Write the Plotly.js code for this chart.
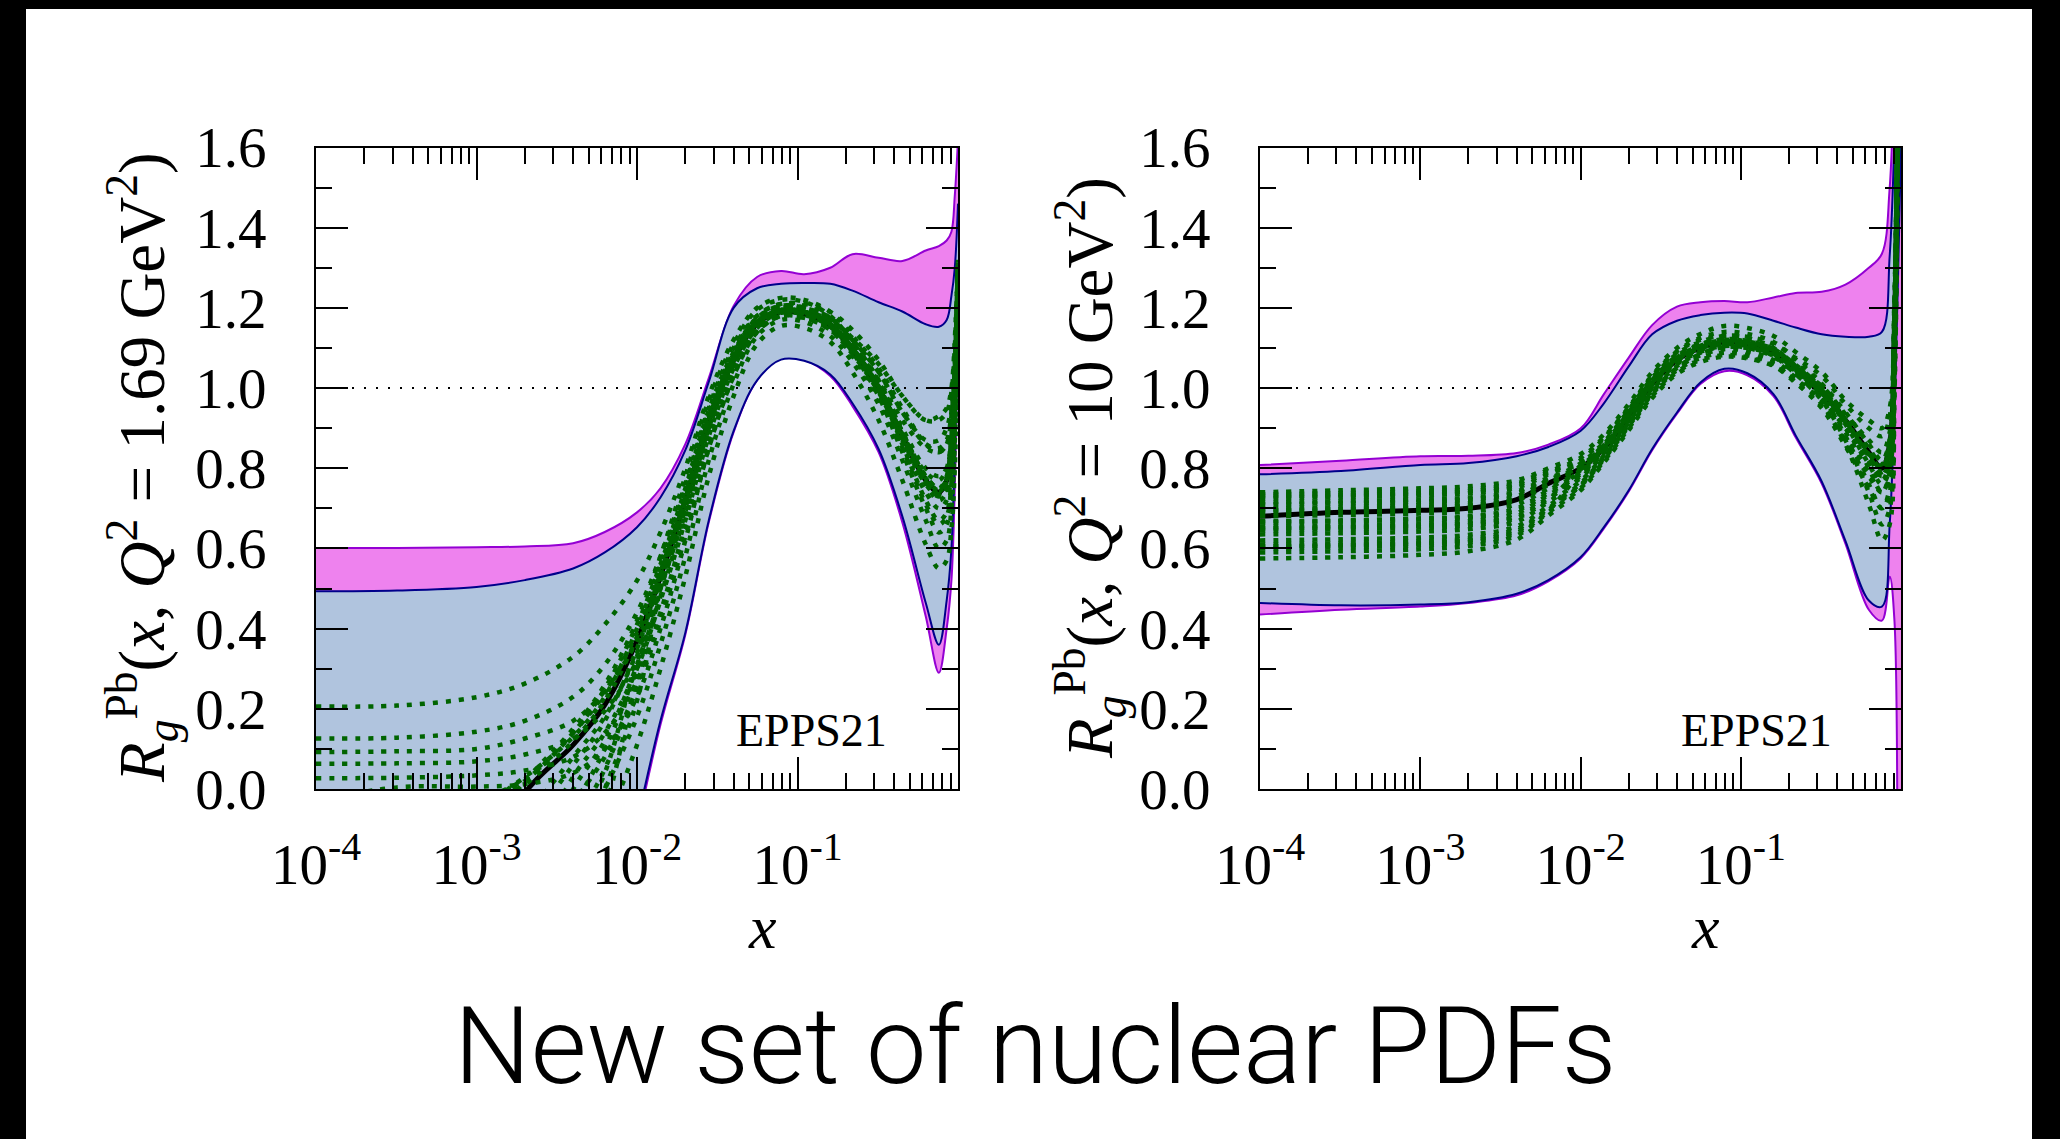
<!DOCTYPE html>
<html>
<head>
<meta charset="utf-8">
<script src="https://cdn.plot.ly/plotly-3.0.1.min.js"></script>
<style>
  html, body { margin: 0; padding: 0; background: #000; }
  #chart { width: 2060px; height: 1139px; }
</style>
</head>
<body>
<div id="chart"></div>
<script>
// ---------------- DATA ----------------
const xGrid = [0.0001, 0.00032, 0.001, 0.002, 0.004, 0.0063, 0.01, 0.014, 0.02, 0.028, 0.04, 0.056,
               0.079, 0.11, 0.16, 0.22, 0.32, 0.45, 0.63, 0.76, 0.85, 0.91, 0.955, 1.0];

const xTickVals = [0.0001, 0.001, 0.01, 0.1];
const xTickText = ['10<sup>-4</sup>', '10<sup>-3</sup>', '10<sup>-2</sup>', '10<sup>-1</sup>'];
const xMinorVals = [0.0002,0.0003,0.0004,0.0005,0.0006,0.0007,0.0008,0.0009,
                    0.002,0.003,0.004,0.005,0.006,0.007,0.008,0.009,
                    0.02,0.03,0.04,0.05,0.06,0.07,0.08,0.09,
                    0.2,0.3,0.4,0.5,0.6,0.7,0.8,0.9];
const yTickVals = [0, 0.2, 0.4, 0.6, 0.8, 1.0, 1.2, 1.4, 1.6];
const yTickText = ['0.0', '0.2', '0.4', '0.6', '0.8', '1.0', '1.2', '1.4', '1.6'];

const unityX = [0.0001, 1.0];
const unityY = [1.0, 1.0];

// Left panel: Q^2 = 1.69 GeV^2
const leftMagentaUpper = [0.601,0.601,0.603,0.605,0.613,0.641,0.69,0.75,0.86,1.025,1.205,1.277,1.292,1.284,1.30,1.334,1.325,1.317,1.343,1.354,1.368,1.39,1.48,1.62];
const leftMagentaLower = [-1.1,-1.05,-1.0,-0.9,-0.7,-0.5,-0.1,0.16,0.385,0.665,0.89,1.02,1.075,1.07,1.03,0.955,0.84,0.665,0.43,0.29,0.4,0.52,0.75,1.15];
const leftBlueUpper    = [0.493,0.495,0.504,0.521,0.55,0.59,0.653,0.727,0.845,1.015,1.2,1.249,1.26,1.262,1.26,1.243,1.214,1.191,1.159,1.153,1.17,1.23,1.3,1.46];
const leftBlueLower    = [-1.0,-0.95,-0.9,-0.8,-0.6,-0.42,-0.08,0.17,0.39,0.67,0.893,1.019,1.071,1.068,1.034,0.962,0.848,0.68,0.464,0.36,0.47,0.6,0.85,1.2];
const leftCentral      = [-0.55,-0.45,-0.25,-0.01,0.11,0.21,0.37,0.53,0.72,0.92,1.07,1.16,1.19,1.185,1.155,1.095,1.0,0.88,0.77,0.74,0.77,0.86,1.0,1.3];
const leftMembers = [
  [0.206,0.208,0.229,0.263,0.33,0.41,0.52,0.64,0.80,0.98,1.12,1.20,1.225,1.22,1.19,1.13,1.05,0.95,0.86,0.84,0.86,0.93,1.05,1.32],
  [0.126,0.128,0.143,0.17,0.23,0.31,0.44,0.58,0.76,0.95,1.10,1.18,1.21,1.205,1.175,1.11,1.01,0.88,0.76,0.72,0.74,0.82,0.97,1.26],
  [0.092,0.094,0.10,0.126,0.17,0.245,0.37,0.52,0.72,0.92,1.085,1.175,1.205,1.20,1.175,1.12,1.04,0.94,0.86,0.85,0.87,0.94,1.06,1.3],
  [0.063,0.064,0.069,0.086,0.126,0.195,0.32,0.48,0.69,0.90,1.07,1.165,1.20,1.195,1.16,1.09,0.98,0.84,0.70,0.64,0.66,0.75,0.9,1.2],
  [0.027,0.028,0.034,0.046,0.08,0.14,0.27,0.44,0.66,0.88,1.05,1.15,1.185,1.185,1.16,1.105,1.02,0.92,0.85,0.84,0.86,0.93,1.05,1.3],
  [-0.03,0.004,0.006,0.012,0.04,0.10,0.23,0.40,0.62,0.85,1.03,1.14,1.18,1.18,1.155,1.10,1.01,0.89,0.77,0.73,0.75,0.83,0.97,1.28],
  [-0.4,-0.3,-0.12,0.02,0.15,0.26,0.42,0.58,0.78,0.97,1.11,1.195,1.22,1.215,1.18,1.115,1.02,0.89,0.78,0.75,0.77,0.85,1.0,1.3],
  [-0.8,-0.7,-0.45,-0.2,0.03,0.14,0.30,0.47,0.67,0.88,1.05,1.15,1.19,1.19,1.17,1.125,1.06,0.98,0.92,0.92,0.94,0.99,1.1,1.32],
  [-1.0,-0.9,-0.6,-0.3,-0.04,0.08,0.25,0.42,0.63,0.85,1.03,1.14,1.18,1.175,1.145,1.08,0.98,0.85,0.71,0.66,0.68,0.76,0.92,1.22],
  [-1.2,-1.1,-0.8,-0.5,-0.15,0.0,0.18,0.36,0.58,0.82,1.01,1.13,1.17,1.165,1.13,1.065,0.96,0.82,0.67,0.60,0.62,0.7,0.86,1.15],
  [-1.5,-1.3,-1.0,-0.7,-0.3,-0.1,0.11,0.30,0.53,0.78,0.98,1.11,1.155,1.15,1.115,1.04,0.92,0.77,0.61,0.55,0.57,0.65,0.8,1.1],
  [-0.2,-0.15,-0.05,0.03,0.13,0.23,0.40,0.56,0.75,0.94,1.09,1.18,1.21,1.21,1.19,1.145,1.07,0.98,0.92,0.93,0.95,1.0,1.12,1.32],
  [-0.6,-0.5,-0.3,-0.08,0.08,0.18,0.34,0.5,0.7,0.9,1.06,1.16,1.195,1.19,1.16,1.1,1.0,0.86,0.72,0.67,0.69,0.77,0.93,1.24],
  [-0.3,-0.2,-0.08,0.01,0.12,0.22,0.38,0.55,0.74,0.93,1.08,1.17,1.2,1.2,1.17,1.12,1.04,0.94,0.87,0.87,0.9,0.96,1.08,1.3],
  [-0.8,-0.65,-0.45,-0.3,-0.05,0.1,0.3,0.53,0.73,0.93,1.08,1.17,1.2,1.195,1.165,1.105,1.01,0.89,0.78,0.75,0.78,0.87,1.01,1.3],
  [-0.9,-0.75,-0.55,-0.4,-0.1,0.05,0.26,0.51,0.71,0.91,1.06,1.15,1.18,1.175,1.145,1.085,0.99,0.87,0.76,0.73,0.76,0.85,0.99,1.28],
  [-0.5,-0.4,-0.25,-0.1,0.06,0.17,0.35,0.535,0.725,0.925,1.075,1.165,1.195,1.19,1.16,1.1,1.005,0.885,0.79,0.77,0.8,0.88,1.02,1.3],
  [-1.1,-0.95,-0.75,-0.6,-0.2,0.0,0.22,0.5,0.715,0.915,1.065,1.155,1.185,1.18,1.15,1.09,0.995,0.875,0.765,0.735,0.765,0.855,0.995,1.29],
  [-0.7,-0.6,-0.4,-0.25,0.0,0.12,0.31,0.5,0.69,0.9,1.05,1.15,1.19,1.185,1.16,1.105,1.015,0.9,0.8,0.78,0.8,0.88,1.02,1.3],
  [-0.25,-0.15,-0.05,0.02,0.14,0.25,0.41,0.56,0.75,0.945,1.09,1.175,1.205,1.2,1.165,1.1,0.995,0.86,0.74,0.7,0.72,0.8,0.95,1.25],
  [-0.95,-0.8,-0.6,-0.45,-0.12,0.04,0.33,0.54,0.722,0.922,1.072,1.162,1.192,1.187,1.157,1.097,1.002,0.882,0.772,0.742,0.772,0.862,1.002,1.3],
  [-1.3,-1.1,-0.9,-0.7,-0.25,-0.05,0.28,0.52,0.718,0.918,1.068,1.158,1.188,1.183,1.153,1.093,0.998,0.878,0.768,0.738,0.768,0.858,0.998,1.3],
  [-0.15,-0.1,-0.03,0.025,0.14,0.24,0.39,0.535,0.725,0.925,1.075,1.163,1.193,1.188,1.158,1.098,1.003,0.883,0.775,0.745,0.775,0.865,1.005,1.3]
];

// Right panel: Q^2 = 10 GeV^2
const rightMagentaUpper = [0.808,0.819,0.83,0.831,0.838,0.859,0.899,0.985,1.076,1.157,1.203,1.214,1.217,1.214,1.226,1.237,1.24,1.258,1.30,1.335,1.5,1.8,2.0,2.2];
const rightMagentaLower = [0.435,0.447,0.455,0.464,0.483,0.518,0.575,0.65,0.742,0.845,0.936,1.01,1.042,1.032,0.98,0.877,0.762,0.612,0.447,0.42,0.53,0.42,-0.3,-2.0];
const rightBlueUpper    = [0.785,0.793,0.808,0.813,0.83,0.853,0.893,0.962,1.054,1.134,1.168,1.182,1.188,1.186,1.168,1.151,1.134,1.128,1.128,1.14,1.33,1.62,1.9,2.1];
const rightBlueLower    = [0.464,0.458,0.46,0.466,0.487,0.521,0.578,0.653,0.745,0.848,0.939,1.014,1.048,1.037,0.985,0.882,0.767,0.619,0.47,0.455,0.66,0.95,1.25,1.6];
const rightCentral      = [0.68,0.69,0.695,0.70,0.722,0.762,0.80,0.85,0.93,1.01,1.07,1.10,1.115,1.11,1.09,1.05,0.99,0.92,0.84,0.80,0.86,1.15,1.7,2.3];
const rightMembers = [
  [0.74,0.745,0.75,0.755,0.77,0.80,0.835,0.885,0.96,1.04,1.10,1.135,1.155,1.15,1.13,1.09,1.04,0.97,0.92,0.90,0.95,1.22,1.75,2.3],
  [0.725,0.728,0.732,0.738,0.752,0.785,0.82,0.875,0.95,1.03,1.09,1.12,1.13,1.125,1.10,1.05,0.98,0.88,0.76,0.70,0.75,1.05,1.6,2.3],
  [0.71,0.713,0.717,0.722,0.738,0.772,0.812,0.865,0.945,1.025,1.085,1.115,1.13,1.128,1.11,1.075,1.03,0.96,0.90,0.88,0.93,1.22,1.76,2.3],
  [0.695,0.698,0.702,0.707,0.724,0.762,0.805,0.86,0.94,1.02,1.08,1.11,1.12,1.115,1.095,1.055,1.0,0.92,0.83,0.78,0.82,1.12,1.68,2.3],
  [0.68,0.683,0.687,0.692,0.71,0.75,0.795,0.852,0.933,1.013,1.072,1.10,1.11,1.105,1.08,1.035,0.97,0.87,0.74,0.66,0.70,1.0,1.56,2.3],
  [0.665,0.668,0.672,0.677,0.695,0.738,0.785,0.845,0.927,1.008,1.068,1.098,1.112,1.108,1.088,1.048,0.995,0.915,0.83,0.79,0.84,1.14,1.7,2.3],
  [0.65,0.653,0.657,0.662,0.68,0.726,0.776,0.838,0.92,1.0,1.06,1.09,1.105,1.10,1.078,1.035,0.975,0.89,0.79,0.74,0.78,1.08,1.64,2.3],
  [0.635,0.638,0.642,0.648,0.667,0.716,0.768,0.832,0.915,0.995,1.055,1.088,1.105,1.102,1.085,1.05,1.005,0.935,0.87,0.84,0.89,1.18,1.72,2.3],
  [0.62,0.623,0.627,0.634,0.655,0.706,0.762,0.828,0.91,0.99,1.05,1.082,1.097,1.092,1.07,1.025,0.96,0.86,0.71,0.62,0.66,0.98,1.55,2.3],
  [0.605,0.608,0.613,0.62,0.643,0.698,0.756,0.823,0.905,0.985,1.045,1.075,1.088,1.082,1.06,1.015,0.95,0.855,0.75,0.70,0.74,1.04,1.6,2.3],
  [0.59,0.593,0.598,0.606,0.632,0.69,0.75,0.818,0.9,0.98,1.04,1.07,1.082,1.077,1.056,1.013,0.955,0.87,0.78,0.74,0.78,1.08,1.65,2.3],
  [0.575,0.578,0.584,0.593,0.622,0.682,0.745,0.814,0.895,0.975,1.035,1.065,1.078,1.074,1.055,1.02,0.97,0.90,0.82,0.78,0.82,1.12,1.67,2.3],
  [0.70,0.703,0.708,0.713,0.73,0.77,0.805,0.855,0.935,1.015,1.075,1.105,1.12,1.115,1.095,1.055,0.995,0.915,0.835,0.80,0.85,1.15,1.7,2.3],
  [0.668,0.67,0.675,0.68,0.70,0.745,0.79,0.848,0.93,1.01,1.07,1.1,1.115,1.112,1.092,1.05,0.99,0.91,0.82,0.78,0.83,1.13,1.69,2.3],
  [0.655,0.658,0.662,0.668,0.688,0.733,0.78,0.842,0.924,1.004,1.064,1.095,1.11,1.106,1.086,1.045,0.985,0.9,0.81,0.77,0.82,1.12,1.68,2.3],
  [0.69,0.693,0.697,0.703,0.72,0.758,0.8,0.855,0.937,1.017,1.077,1.108,1.122,1.118,1.098,1.06,1.01,0.94,0.86,0.82,0.87,1.17,1.72,2.3],
  [0.61,0.613,0.618,0.625,0.648,0.7,0.758,0.826,0.908,0.988,1.05,1.085,1.102,1.1,1.082,1.042,0.99,0.91,0.81,0.76,0.80,1.1,1.66,2.3],
  [0.73,0.733,0.738,0.743,0.758,0.79,0.826,0.878,0.952,1.032,1.092,1.125,1.14,1.135,1.115,1.072,1.01,0.92,0.8,0.74,0.79,1.09,1.65,2.3],
  [0.715,0.718,0.722,0.727,0.742,0.776,0.802,0.852,0.932,1.012,1.072,1.102,1.117,1.112,1.092,1.052,0.992,0.922,0.842,0.802,0.862,1.152,1.7,2.3],
  [0.645,0.648,0.652,0.658,0.676,0.722,0.797,0.848,0.928,1.008,1.068,1.098,1.113,1.108,1.088,1.048,0.988,0.918,0.838,0.798,0.858,1.148,1.7,2.3],
  [0.6,0.603,0.608,0.615,0.638,0.694,0.79,0.845,0.926,1.006,1.066,1.097,1.112,1.107,1.087,1.045,0.982,0.905,0.82,0.78,0.83,1.13,1.69,2.3],
  [0.735,0.738,0.742,0.747,0.762,0.795,0.81,0.858,0.936,1.016,1.076,1.105,1.12,1.116,1.097,1.058,1.0,0.93,0.85,0.81,0.87,1.16,1.71,2.3]
];

const yTitleLeft  = '<i>R</i><sub><i>g</i></sub><sup>Pb</sup>(<i>x</i>, <i>Q</i><sup>2</sup> = 1.69 GeV<sup>2</sup>)';
const yTitleRight = '<i>R</i><sub><i>g</i></sub><sup>Pb</sup>(<i>x</i>, <i>Q</i><sup>2</sup> = 10 GeV<sup>2</sup>)';
const setLabel = 'EPPS21';
const mainTitle = 'New set of nuclear PDFs';

// ---------------- STYLE ----------------
const W = 2060, H = 1139;
const SERIF = 'Liberation Serif, Times New Roman, serif';
const C_MAG_FILL = '#EE82EE', C_MAG_LINE = '#9400D3';
const C_BLUE_FILL = '#B0C4DE', C_BLUE_LINE = '#00008B';
const C_GREEN = '#006400';

function panelTraces(xa, ya, magUp, magLo, bluUp, bluLo, central, members) {
  const common = { x: xGrid, xaxis: xa, yaxis: ya, mode: 'lines', hoverinfo: 'skip', type: 'scatter' };
  const t = [];
  t.push(Object.assign({}, common, { y: magLo, line: { color: C_MAG_LINE, width: 2, shape: 'spline' } }));
  t.push(Object.assign({}, common, { y: magUp, fill: 'tonexty', fillcolor: C_MAG_FILL, line: { color: C_MAG_LINE, width: 2, shape: 'spline' } }));
  t.push(Object.assign({}, common, { y: bluLo, line: { color: C_BLUE_LINE, width: 2, shape: 'spline' } }));
  t.push(Object.assign({}, common, { y: bluUp, fill: 'tonexty', fillcolor: C_BLUE_FILL, line: { color: C_BLUE_LINE, width: 2, shape: 'spline' } }));
  t.push({ x: unityX, y: unityY, xaxis: xa, yaxis: ya, mode: 'lines', hoverinfo: 'skip', type: 'scatter',
           line: { color: 'black', width: 2, dash: '2px,10px' } });
  t.push(Object.assign({}, common, { y: central, line: { color: 'black', width: 5, shape: 'spline' } }));
  members.forEach(m => {
    t.push(Object.assign({}, common, { y: m, line: { color: C_GREEN, width: 4.5, dash: '5px,8px', shape: 'spline' } }));
  });
  return t;
}

const data = []
  .concat(panelTraces('x', 'y', leftMagentaUpper, leftMagentaLower, leftBlueUpper, leftBlueLower, leftCentral, leftMembers))
  .concat(panelTraces('x2', 'y2', rightMagentaUpper, rightMagentaLower, rightBlueUpper, rightBlueLower, rightCentral, rightMembers));

const yDom = [1 - 789 / H, 1 - 147.5 / H];

function xAxis(dom, anchor) {
  return {
    type: 'log', range: [-4, 0], domain: dom, anchor: anchor,
    showline: true, linecolor: 'black', linewidth: 2, mirror: 'allticks',
    ticks: 'inside', ticklen: 32, tickwidth: 2, tickcolor: 'black',
    tickmode: 'array', tickvals: xTickVals, ticktext: xTickText,
    tickfont: { family: SERIF, size: 57, color: 'black' },
    ticklabelstandoff: 25,
    minor: { tickmode: 'array', tickvals: xMinorVals, ticks: 'inside', ticklen: 16, tickwidth: 2, tickcolor: 'black', showgrid: false },
    showgrid: false, zeroline: false, fixedrange: true
  };
}
function yAxis(anchor) {
  return {
    range: [0, 1.6], domain: yDom, anchor: anchor,
    showline: true, linecolor: 'black', linewidth: 2, mirror: 'allticks',
    ticks: 'inside', ticklen: 32, tickwidth: 2, tickcolor: 'black',
    tickmode: 'array', tickvals: yTickVals, ticktext: yTickText,
    tickfont: { family: SERIF, size: 57, color: 'black' },
    ticklabelstandoff: 36,
    minor: { dtick: 0.1, ticks: 'inside', ticklen: 16, tickwidth: 2, tickcolor: 'black', showgrid: false },
    showgrid: false, zeroline: false, fixedrange: true
  };
}

const layout = {
  width: W, height: H,
  margin: { l: 0, r: 0, t: 0, b: 0, pad: 0 },
  paper_bgcolor: 'black', plot_bgcolor: 'white',
  showlegend: false,
  xaxis: xAxis([316 / W, 958 / W], 'y'),
  yaxis: yAxis('x'),
  xaxis2: xAxis([1260 / W, 1901 / W], 'y2'),
  yaxis2: yAxis('x2'),
  shapes: [
    { type: 'rect', xref: 'paper', yref: 'paper', layer: 'below',
      x0: 26 / W, x1: 2032 / W, y0: -0.01, y1: 1 - 9 / H,
      fillcolor: 'white', line: { width: 0 } }
  ],
  annotations: [
    { text: yTitleLeft, xref: 'paper', yref: 'paper', x: 142 / W, y: 1 - 468 / H, textangle: -90,
      xanchor: 'center', yanchor: 'middle', showarrow: false, font: { family: SERIF, size: 65, color: 'black' } },
    { text: yTitleRight, xref: 'paper', yref: 'paper', x: 1090 / W, y: 1 - 468 / H, textangle: -90,
      xanchor: 'center', yanchor: 'middle', showarrow: false, font: { family: SERIF, size: 65, color: 'black' } },
    { text: '<i>x</i>', xref: 'paper', yref: 'paper', x: 762 / W, y: 1 - 927 / H,
      xanchor: 'center', yanchor: 'middle', showarrow: false, font: { family: SERIF, size: 62, color: 'black' } },
    { text: '<i>x</i>', xref: 'paper', yref: 'paper', x: 1705 / W, y: 1 - 927 / H,
      xanchor: 'center', yanchor: 'middle', showarrow: false, font: { family: SERIF, size: 62, color: 'black' } },
    { text: setLabel, xref: 'paper', yref: 'paper', x: 811 / W, y: 1 - 730 / H,
      xanchor: 'center', yanchor: 'middle', showarrow: false, font: { family: SERIF, size: 46, color: 'black' } },
    { text: setLabel, xref: 'paper', yref: 'paper', x: 1756 / W, y: 1 - 730 / H,
      xanchor: 'center', yanchor: 'middle', showarrow: false, font: { family: SERIF, size: 46, color: 'black' } },
    { text: mainTitle, xref: 'paper', yref: 'paper', x: 1035 / W, y: 1 - 1046 / H,
      xanchor: 'center', yanchor: 'middle', showarrow: false,
      font: { family: 'Roboto, Liberation Sans, sans-serif', size: 108, color: 'black', weight: 300 } }
  ]
};

Plotly.newPlot('chart', data, layout, { displayModeBar: false, staticPlot: true });
</script>
</body>
</html>
